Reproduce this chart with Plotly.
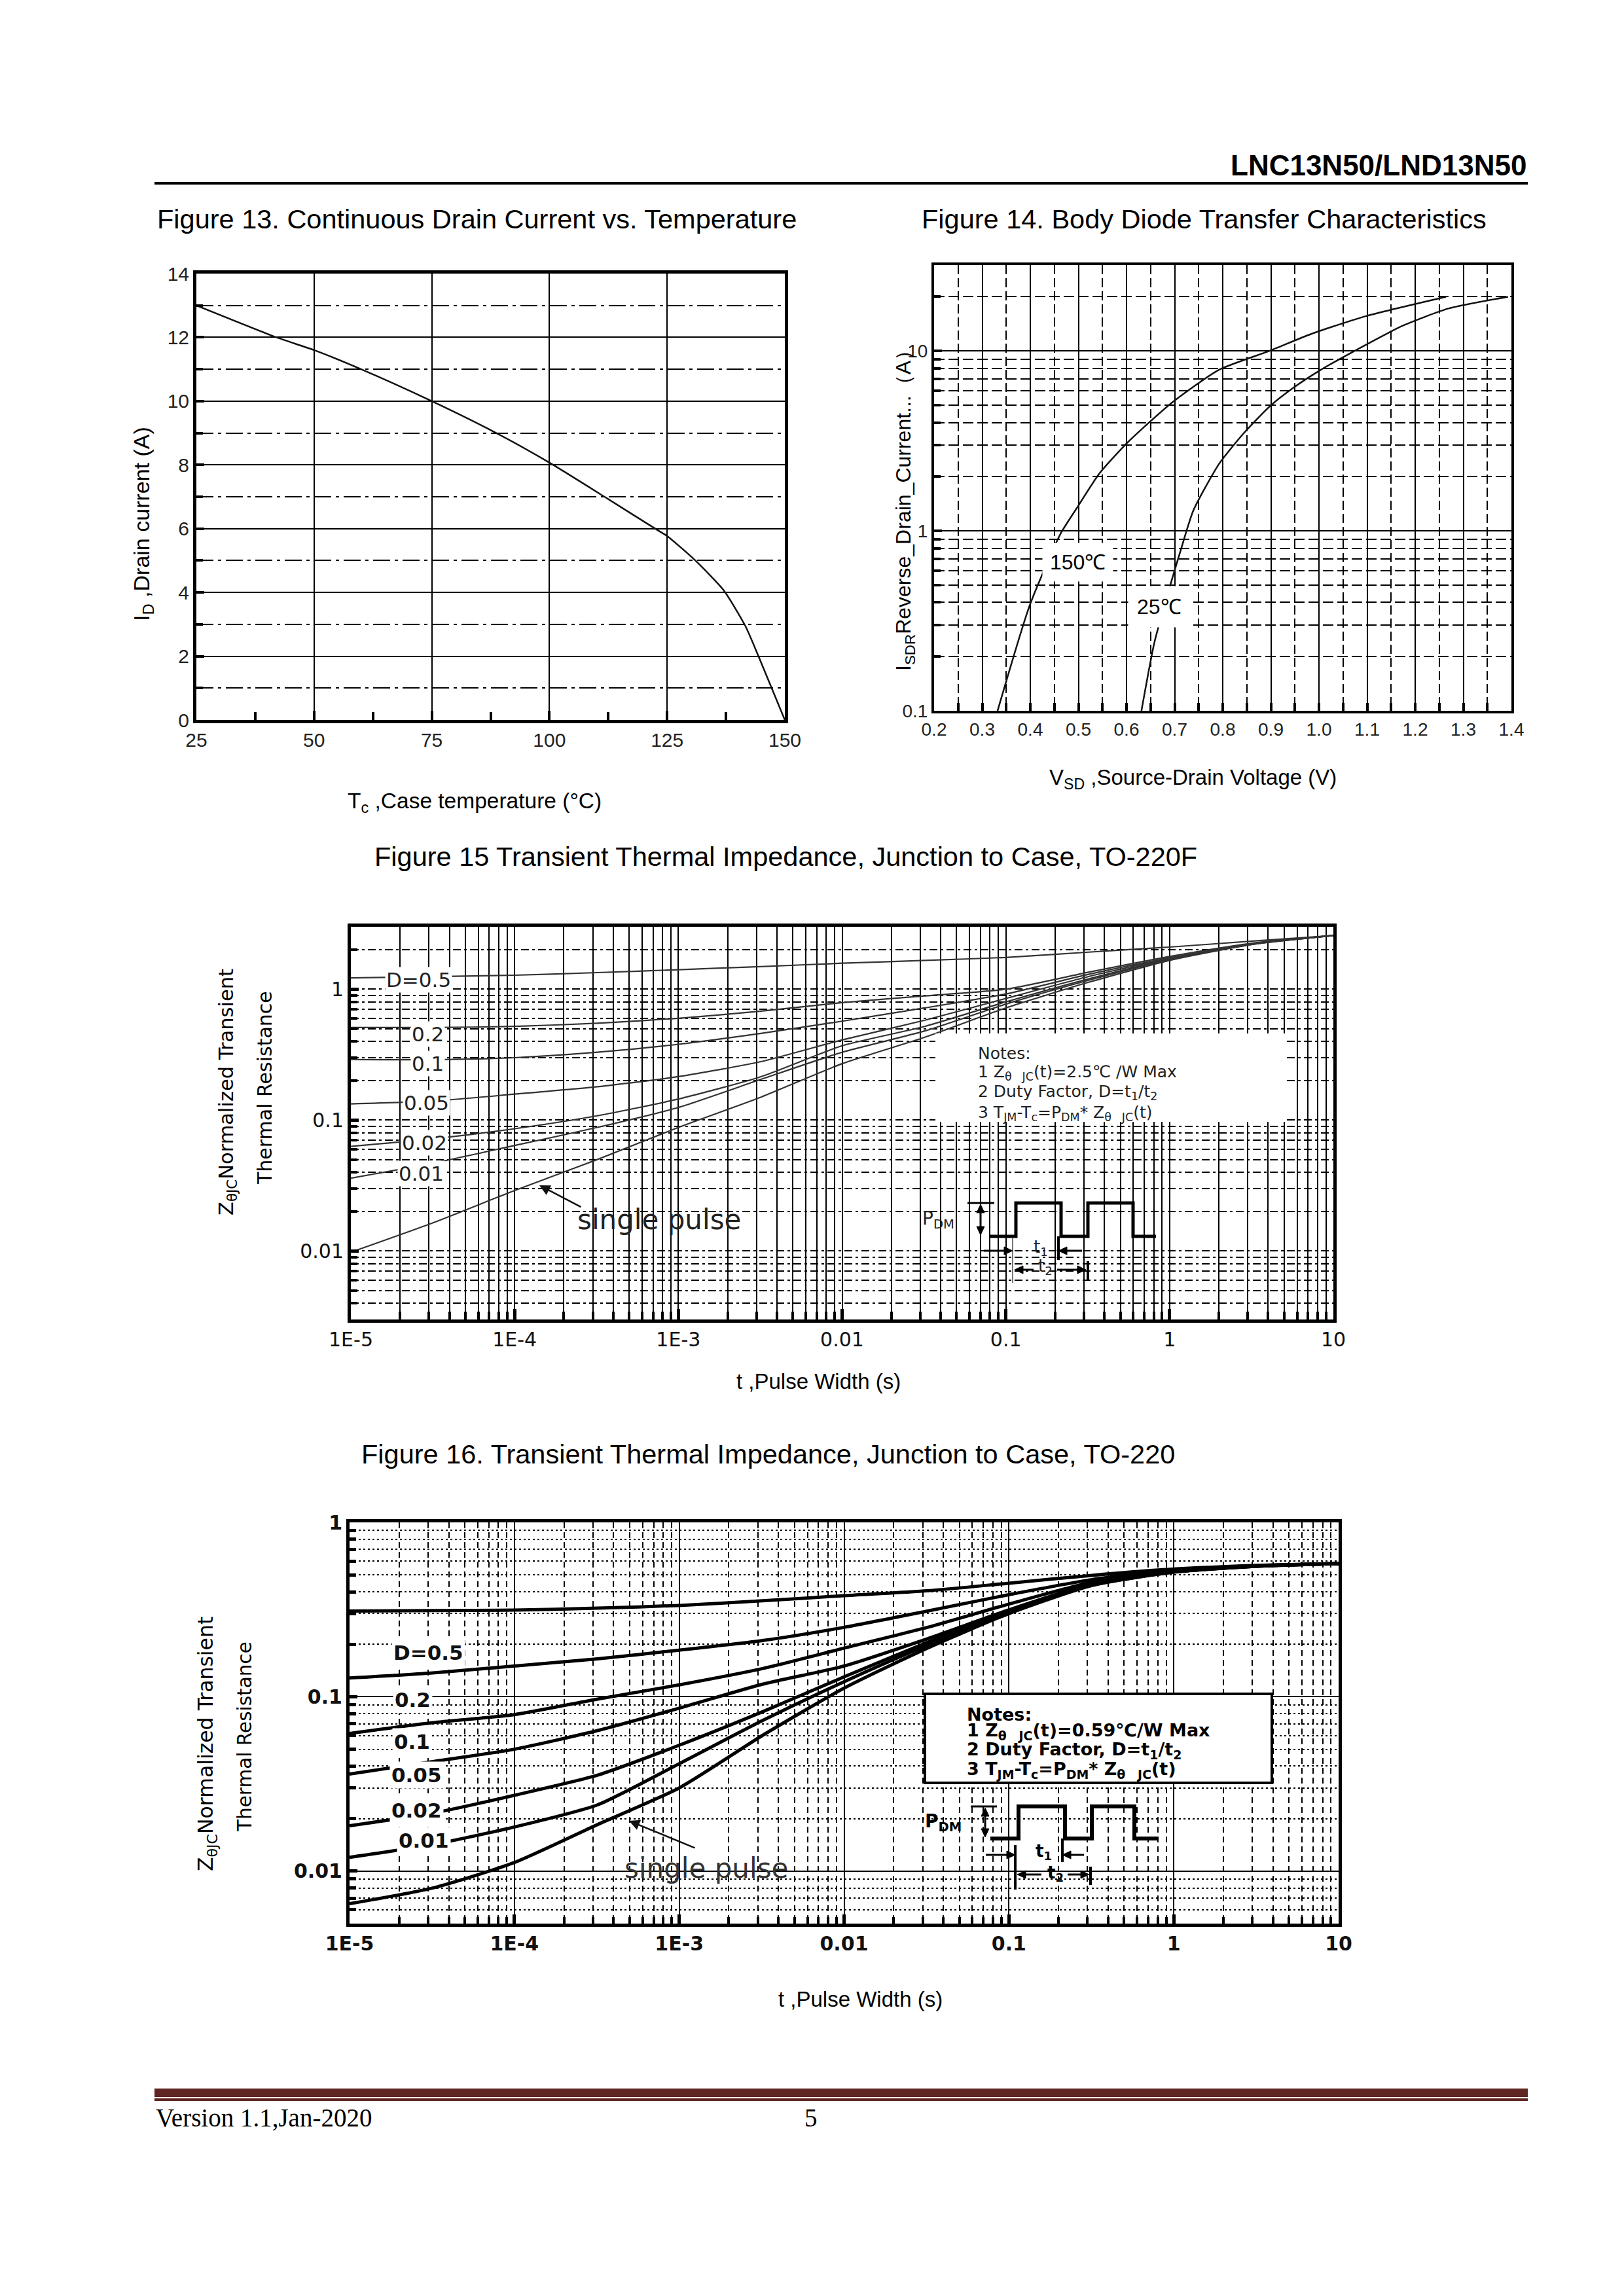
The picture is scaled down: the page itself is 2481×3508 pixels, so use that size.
import math
import plotly.graph_objects as go

W, H = 2481, 3508
DX, DY = -7, -6   # global page offset correction (pixels)

# ---------------- data ----------------
# Figure 13: continuous drain current vs case temperature
case_temp_c = [25, 42, 50, 60, 75, 88.7, 100, 111.7, 123, 125, 131, 137, 141.6, 144.4, 147.2, 150]
drain_current_a = [13.0, 12.0, 11.6, 11.0, 10.0, 9.0, 8.07, 7.0, 5.95, 5.77, 5.0, 4.07, 2.95, 2.0, 1.0, 0.0]
fig13_xticks = [25, 50, 75, 100, 125, 150]
fig13_yticks = [0, 2, 4, 6, 8, 10, 12, 14]

# Figure 14: body diode transfer characteristics
vsd_150c = [0.332, 0.399, 0.4625, 0.496, 0.544, 0.599, 0.649, 0.696, 0.792, 0.897, 0.983, 1.097, 1.264]
isd_150c = [0.1, 0.387, 0.96, 1.33, 2.09, 3.04, 4.05, 5.2, 7.85, 10.0, 12.4, 15.6, 20.0]
vsd_25c = [0.631, 0.658, 0.691, 0.715, 0.739, 0.792, 0.84, 0.897, 0.949, 1.002, 1.068, 1.174, 1.269, 1.393]
isd_25c = [0.1, 0.24, 0.50, 0.82, 1.3, 2.35, 3.4, 4.9, 6.3, 7.8, 9.8, 13.8, 17.2, 20.0]
fig14_xticks = [0.2, 0.3, 0.4, 0.5, 0.6, 0.7, 0.8, 0.9, 1.0, 1.1, 1.2, 1.3, 1.4]
fig14_xticktext = ["0.2", "0.3", "0.4", "0.5", "0.6", "0.7", "0.8", "0.9", "1.0", "1.1", "1.2", "1.3", "1.4"]
fig14_yticks = [0.1, 1, 10]
fig14_yticktext = ["0.1", "1", "10"]

# Figures 15 / 16: transient thermal impedance
pulse_width_s = [1e-5, 3.2e-5, 1e-4, 3.2e-4, 1e-3, 3.2e-3, 1e-2, 3.2e-2, 0.1, 0.32, 1, 3.2, 10]
pulse_ticks = [1e-5, 1e-4, 1e-3, 1e-2, 0.1, 1, 10]
pulse_ticktext = ["1E-5", "1E-4", "1E-3", "0.01", "0.1", "1", "10"]
z_ticks = [0.01, 0.1, 1]
z_ticktext = ["0.01", "0.1", "1"]

z15_d05 = [1.22, 1.25, 1.28, 1.34, 1.41, 1.49, 1.58, 1.66, 1.75, 1.92, 2.10, 2.33, 2.57]
z15_d02 = [0.51, 0.51, 0.52, 0.55, 0.60, 0.68, 0.79, 0.89, 1.00, 1.35, 1.78, 2.25, 2.57]
z15_d01 = [0.29, 0.29, 0.30, 0.33, 0.38, 0.46, 0.57, 0.72, 0.92, 1.30, 1.74, 2.23, 2.57]
z15_d005 = [0.133, 0.140, 0.158, 0.18, 0.215, 0.28, 0.41, 0.58, 0.85, 1.25, 1.72, 2.22, 2.57]
z15_d002 = [0.063, 0.072, 0.086, 0.108, 0.145, 0.215, 0.37, 0.52, 0.80, 1.20, 1.70, 2.21, 2.57]
z15_d001 = [0.036, 0.047, 0.064, 0.088, 0.125, 0.205, 0.33, 0.48, 0.77, 1.17, 1.68, 2.20, 2.57]
z15_single = [0.0098, 0.0165, 0.029, 0.05, 0.088, 0.15, 0.27, 0.43, 0.72, 1.13, 1.66, 2.20, 2.57]

z16_d05 = [0.31, 0.312, 0.314, 0.322, 0.334, 0.355, 0.38, 0.405, 0.448, 0.497, 0.54, 0.567, 0.58]
z16_d02 = [0.128, 0.137, 0.150, 0.165, 0.185, 0.21, 0.25, 0.31, 0.385, 0.47, 0.53, 0.565, 0.58]
z16_d01 = [0.0616, 0.071, 0.079, 0.097, 0.117, 0.145, 0.19, 0.25, 0.34, 0.455, 0.525, 0.563, 0.58]
z16_d005 = [0.036, 0.0425, 0.050, 0.064, 0.086, 0.118, 0.15, 0.215, 0.315, 0.445, 0.522, 0.562, 0.58]
z16_d002 = [0.0182, 0.0215, 0.0272, 0.0355, 0.0527, 0.082, 0.13, 0.205, 0.31, 0.44, 0.52, 0.561, 0.58]
z16_d001 = [0.012, 0.0142, 0.0179, 0.024, 0.0413, 0.073, 0.122, 0.198, 0.305, 0.437, 0.519, 0.56, 0.58]
z16_single = [0.0065, 0.0080, 0.0112, 0.0185, 0.030, 0.060, 0.112, 0.19, 0.30, 0.435, 0.518, 0.56, 0.58]

# ---------------- layout helpers ----------------
NARROW = "Liberation Sans Narrow, Arial Narrow, Liberation Sans, Arial, sans-serif"
ARIAL = "Liberation Sans, Arial, sans-serif"
WIDE = "DejaVu Sans, Verdana, sans-serif"
SERIF = "Liberation Serif, Times New Roman, serif"

# plot boxes in page pixels: X0, X1, Y0(top), Y1(bottom)
BOX13 = (299, 1198, 416, 1098)
BOX14 = (1426, 2308, 403, 1084)
BOX15 = (535, 2036, 1414, 2014)
BOX16 = (533, 2044, 2324, 2937)


def PX(X):
    return (X + DX) / W


def PY(Y):
    return 1 - (Y + DY) / H


def xdom(b):
    return [PX(b[0]), PX(b[1])]


def ydom(b):
    return [PY(b[3]), PY(b[2])]


def log_minors(e0, e1, lo, hi):
    out = []
    for e in range(e0, e1 + 1):
        for m in range(2, 10):
            v = round(m * 10.0 ** e, 12)
            if lo < v < hi:
                out.append(v)
    return out


shapes = []
annotations = []


def text(t, X, Y, size, family=ARIAL, color="black", xanchor="center", angle=0, bg=None, pad=1):
    a = dict(text=t, x=PX(X), y=PY(Y), xref="paper", yref="paper", showarrow=False,
             font=dict(size=size, family=family, color=color), xanchor=xanchor, yanchor="middle",
             textangle=angle, borderpad=pad)
    if bg:
        a["bgcolor"] = bg
    annotations.append(a)


def line_px(X0, Y0, X1, Y1, width=3, color="black"):
    shapes.append(dict(type="line", xref="paper", yref="paper", x0=PX(X0), y0=PY(Y0), x1=PX(X1), y1=PY(Y1),
                       line=dict(color=color, width=width), layer="above"))


def path_px(points, width=3, color="black", fill=None, closed=False):
    d = "M " + " L ".join(f"{PX(X):.6f},{PY(Y):.6f}" for X, Y in points)
    if closed:
        d += " Z"
    shp = dict(type="path", xref="paper", yref="paper", path=d,
               line=dict(color=color, width=width), layer="above")
    if fill:
        shp["fillcolor"] = fill
    shapes.append(shp)


def head(tx, ty, direction, L=13, Wd=6):
    if direction == "right":
        pts = [(tx, ty), (tx - L, ty - Wd), (tx - L, ty + Wd)]
    elif direction == "left":
        pts = [(tx, ty), (tx + L, ty - Wd), (tx + L, ty + Wd)]
    elif direction == "up":
        pts = [(tx, ty), (tx - Wd, ty + L), (tx + Wd, ty + L)]
    else:
        pts = [(tx, ty), (tx - Wd, ty - L), (tx + Wd, ty - L)]
    path_px(pts, width=1, fill="black", closed=True)


def rect_px(X0, Y0, X1, Y1, fill="white", lw=0, lc="black"):
    shapes.append(dict(type="rect", xref="paper", yref="paper",
                       x0=PX(X0), x1=PX(X1), y0=PY(Y1), y1=PY(Y0), fillcolor=fill,
                       line=dict(width=lw, color=lc), layer="above"))


fig = go.Figure()

# ---------------- traces ----------------
fig.add_trace(go.Scatter(x=case_temp_c, y=drain_current_a, mode="lines", xaxis="x", yaxis="y",
                         line=dict(color="#111", width=2.5, shape="spline", smoothing=0.6)))
fig.add_trace(go.Scatter(x=vsd_150c, y=isd_150c, mode="lines", xaxis="x2", yaxis="y2",
                         line=dict(color="#111", width=2.5, shape="spline", smoothing=0.6)))
fig.add_trace(go.Scatter(x=vsd_25c, y=isd_25c, mode="lines", xaxis="x2", yaxis="y2",
                         line=dict(color="#111", width=2.5, shape="spline", smoothing=0.6)))
for ser in [z15_d05, z15_d02, z15_d01, z15_d005, z15_d002, z15_d001, z15_single]:
    fig.add_trace(go.Scatter(x=pulse_width_s, y=ser, mode="lines", xaxis="x3", yaxis="y3",
                             line=dict(color="#333", width=2.2, shape="spline", smoothing=0.6)))
for ser in [z16_d05, z16_d02, z16_d01, z16_d005, z16_d002, z16_d001, z16_single]:
    fig.add_trace(go.Scatter(x=pulse_width_s, y=ser, mode="lines", xaxis="x4", yaxis="y4",
                             line=dict(color="black", width=5, shape="spline", smoothing=0.6)))

common = dict(showline=True, linecolor="black", mirror=True, zeroline=False, tickcolor="black",
              gridcolor="black", showgrid=True, fixedrange=True, tickmode="array")

# Figure 13 axes
xaxis1 = dict(common, domain=xdom(BOX13), anchor="y", range=[25, 150], tickvals=fig13_xticks,
              ticks="inside", ticklen=14, tickwidth=4, gridwidth=2, linewidth=5,
              tickfont=dict(family=NARROW, size=30, color="#222"),
              minor=dict(tickvals=[37.5, 62.5, 87.5, 112.5, 137.5], ticks="inside", ticklen=12,
                         tickwidth=4, tickcolor="black", showgrid=False))
yaxis1 = dict(common, domain=ydom(BOX13), anchor="x", range=[0, 14], tickvals=fig13_yticks,
              ticks="inside", ticklen=12, tickwidth=4, gridwidth=2, linewidth=5,
              tickfont=dict(family=NARROW, size=30, color="#222"),
              minor=dict(tickvals=[1, 3, 5, 7, 9, 11, 13], ticks="inside", ticklen=10, tickwidth=4,
                         tickcolor="black", showgrid=True, gridcolor="black", gridwidth=1.6,
                         griddash="26px,7px,5px,7px"))

# Figure 14 axes
xaxis2 = dict(common, domain=xdom(BOX14), anchor="y2", range=[0.2, 1.4], tickvals=fig14_xticks,
              ticktext=fig14_xticktext, ticks="inside", ticklen=12, tickwidth=4, gridwidth=2,
              linewidth=4, tickfont=dict(family=NARROW, size=28, color="#222"),
              minor=dict(tickvals=[0.25, 0.35, 0.45, 0.55, 0.65, 0.75, 0.85, 0.95, 1.05, 1.15, 1.25, 1.35],
                         ticks="inside", ticklen=12, tickwidth=4, tickcolor="black", showgrid=True,
                         gridcolor="black", gridwidth=1.6, griddash="14px,6px"))
yaxis2 = dict(common, domain=ydom(BOX14), anchor="x2", type="log", range=[-1, math.log10(30)],
              tickvals=fig14_yticks, ticktext=fig14_yticktext, ticks="inside", ticklen=12, tickwidth=4,
              gridwidth=2, linewidth=4, tickfont=dict(family=NARROW, size=28, color="#222"),
              minor=dict(tickvals=log_minors(-1, 1, 0.1, 30), ticks="inside", ticklen=10, tickwidth=4,
                         tickcolor="black", showgrid=True, gridcolor="black", gridwidth=1.6,
                         griddash="16px,6px"))

# Figure 15 axes
xaxis3 = dict(common, domain=xdom(BOX15), anchor="y3", type="log", range=[-5, 1], tickvals=pulse_ticks,
              ticktext=pulse_ticktext, ticks="inside", ticklen=16, tickwidth=5, gridwidth=2, linewidth=5,
              tickfont=dict(family=WIDE, size=30, color="#111"),
              minor=dict(tickvals=log_minors(-5, 0, 1e-5, 10), ticks="inside", ticklen=12, tickwidth=4,
                         tickcolor="black", showgrid=True, gridcolor="black", gridwidth=2))
yaxis3 = dict(common, domain=ydom(BOX15), anchor="x3", type="log", range=[math.log10(0.003), math.log10(3)],
              tickvals=z_ticks, ticktext=z_ticktext, ticks="inside", ticklen=12, tickwidth=5, gridwidth=2,
              griddash="12px,5px,4px,5px", linewidth=5, tickfont=dict(family=WIDE, size=30, color="#111"),
              minor=dict(tickvals=log_minors(-3, 0, 0.003, 3), ticks="inside", ticklen=10, tickwidth=4,
                         tickcolor="black", showgrid=True, gridcolor="black", gridwidth=2,
                         griddash="12px,5px,4px,5px"))

# Figure 16 axes
xaxis4 = dict(common, domain=xdom(BOX16), anchor="y4", type="log", range=[-5, 1], tickvals=pulse_ticks,
              ticktext=["<b>" + t + "</b>" for t in pulse_ticktext], ticks="inside", ticklen=14, tickwidth=5,
              gridwidth=2, linewidth=5, tickfont=dict(family=WIDE, size=30, color="#111"),
              minor=dict(tickvals=log_minors(-5, 0, 1e-5, 10), ticks="inside", ticklen=10, tickwidth=4,
                         tickcolor="black", showgrid=True, gridcolor="black", gridwidth=1.6,
                         griddash="9px,6px"))
yaxis4 = dict(common, domain=ydom(BOX16), anchor="x4", type="log", range=[math.log10(0.005), 0],
              tickvals=z_ticks, ticktext=["<b>" + t + "</b>" for t in z_ticktext], ticks="inside", ticklen=12,
              tickwidth=5, gridwidth=2, linewidth=5, tickfont=dict(family=WIDE, size=30, color="#111"),
              minor=dict(tickvals=log_minors(-3, -1, 0.005, 1), ticks="inside", ticklen=10, tickwidth=5,
                         tickcolor="black", showgrid=True, gridcolor="black", gridwidth=1.6,
                         griddash="3px,4px"))

# ---------------- page text ----------------
text("<b>LNC13N50/LND13N50</b>", 2333, 250, 44, ARIAL, xanchor="right")
line_px(235, 278, 2333, 278, 4)

text("Figure 13. Continuous Drain Current vs. Temperature", 237, 333, 41.5, ARIAL, xanchor="left")
text("Figure 14. Body Diode Transfer Characteristics", 1405, 333, 41.5, ARIAL, xanchor="left")
text("Figure 15 Transient Thermal Impedance, Junction to Case, TO-220F", 1199, 1306, 41.5, ARIAL)
text("Figure 16. Transient Thermal Impedance, Junction to Case, TO-220", 1172, 2219, 41.5, ARIAL)

# axis titles
text("I<sub>D</sub> ,Drain current (A)", 217, 799, 34, ARIAL, angle=-90)
text("T<sub>c</sub> ,Case temperature (°C)", 724, 1224, 33.5, ARIAL)
text("I<sub>SDR</sub>Reverse_Drain_Current...（A）", 1381, 770, 32, ARIAL, angle=-90)
text("V<sub>SD</sub> ,Source-Drain Voltage (V)", 1821, 1188, 33, ARIAL)
text("Z<sub>θJC</sub>Normalized Transient", 346, 1667, 30.5, WIDE, angle=-90)
text("Thermal Resistance", 403, 1660, 30, WIDE, angle=-90)
text("t ,Pulse Width (s)", 1249, 2108, 33, ARIAL)
text("Z<sub>θJC</sub>Normalized Transient", 315, 2663, 31.5, WIDE, angle=-90)
text("Thermal Resistance", 373, 2652, 29.5, WIDE, angle=-90)
text("t ,Pulse Width (s)", 1313, 3052, 33, ARIAL)

# Figure 14 curve labels
text("150℃", 1645, 857, 32, NARROW, bg="white", pad=11)
text("25℃", 1770, 925, 32, NARROW, bg="white", pad=13)

# Figure 15 notes area (white patch over the grid)
rect_px(1428, 1577, 1962, 1712)
text("Notes:", 1491, 1607, 25, WIDE, color="#222", xanchor="left")
text("1 Z<sub>θ</sub>  <sub>JC</sub>(t)=2.5℃ /W Max", 1491, 1637, 25, WIDE, color="#222", xanchor="left")
text("2 Duty Factor, D=t<sub>1</sub>/t<sub>2</sub>", 1491, 1667, 25, WIDE, color="#222", xanchor="left")
text("3 T<sub>JM</sub>-T<sub>c</sub>=P<sub>DM</sub>* Z<sub>θ</sub>  <sub>JC</sub>(t)", 1491, 1699, 25, WIDE,
     color="#222", xanchor="left")

# Figure 15 curve labels
for lab, X, Y in [("D=0.5", 638, 1495), ("0.2", 652, 1578), ("0.1", 652, 1623), ("0.05", 650, 1683),
                  ("0.02", 647, 1744), ("0.01", 642, 1791)]:
    text(lab, X, Y, 31, WIDE, color="#222", bg="white", pad=1)
text("single pulse", 1006, 1861, 42, WIDE, color="#222")
annotations.append(dict(text="", x=PX(823), y=PY(1809), xref="paper", yref="paper", showarrow=True,
                        ax=65, ay=34, arrowhead=2, arrowsize=1.3, arrowwidth=2.5, arrowcolor="#111"))

# Figure 15 pulse diagram
path_px([(1512, 1887), (1551, 1887), (1551, 1836), (1620, 1836), (1620, 1887), (1661, 1887),
         (1661, 1836), (1730, 1836), (1730, 1887), (1765, 1887)], width=5)
line_px(1477, 1836, 1518, 1836, 3)
line_px(1497, 1850, 1497, 1873, 3)
head(1497, 1838, "up")
head(1497, 1885, "down")
text("P<sub>DM</sub>", 1432, 1862, 28, WIDE, color="#222")
line_px(1546, 1890, 1546, 1958, 2, "#777")
line_px(1616, 1887, 1616, 1923, 4)
line_px(1502, 1909, 1535, 1909, 3)
head(1546, 1909, "right")
line_px(1627, 1909, 1652, 1909, 3)
head(1616, 1909, "left")
text("t<sub>1</sub>", 1589, 1904, 26, WIDE, color="#222")
line_px(1661, 1925, 1661, 1955, 4)
line_px(1560, 1938, 1578, 1938, 3)
head(1549, 1938, "left")
line_px(1614, 1938, 1646, 1938, 3)
head(1658, 1938, "right")
text("t<sub>2</sub>", 1596, 1933, 26, WIDE, color="#222")

# Figure 16 notes box
rect_px(1412, 2586, 1942, 2722, fill="white", lw=4, lc="black")
text("<b>Notes:</b>", 1474, 2617, 27, WIDE, xanchor="left")
text("<b>1 Z<sub>θ</sub>  <sub>JC</sub>(t)=0.59℃/W Max</b>", 1474, 2643, 27, WIDE, xanchor="left")
text("<b>2 Duty Factor, D=t<sub>1</sub>/t<sub>2</sub></b>", 1474, 2672, 27, WIDE, xanchor="left")
text("<b>3 T<sub>JM</sub>-T<sub>c</sub>=P<sub>DM</sub>* Z<sub>θ</sub>  <sub>JC</sub>(t)</b>", 1474, 2702, 27,
     WIDE, xanchor="left")

# Figure 16 curve labels
for lab, X, Y in [("D=0.5", 653, 2523), ("0.2", 629, 2595), ("0.1", 628, 2659), ("0.05", 635, 2710),
                  ("0.02", 635, 2764), ("0.01", 646, 2810)]:
    text("<b>" + lab + "</b>", X, Y, 31, WIDE, color="#111", bg="white", pad=2)
text("single pulse", 1078, 2852, 42, WIDE, color="#333")
annotations.append(dict(text="", x=PX(960), y=PY(2780), xref="paper", yref="paper", showarrow=True,
                        ax=102, ay=42, arrowhead=2, arrowsize=1.3, arrowwidth=2.5, arrowcolor="#111"))

# Figure 16 pulse diagram
path_px([(1512, 2807), (1555, 2807), (1555, 2758), (1626, 2758), (1626, 2807), (1667, 2807),
         (1667, 2758), (1732, 2758), (1732, 2807), (1769, 2807)], width=6)
line_px(1482, 2758, 1522, 2758, 3)
line_px(1504, 2772, 1504, 2793, 3)
head(1504, 2760, "up")
head(1504, 2805, "down")
text("<b>P<sub>DM</sub></b>", 1440, 2782, 28, WIDE)
line_px(1550, 2817, 1550, 2885, 4)
line_px(1622, 2807, 1622, 2843, 4)
line_px(1505, 2832, 1539, 2832, 3)
head(1550, 2832, "right")
line_px(1633, 2832, 1655, 2832, 3)
head(1622, 2832, "left")
text("<b>t<sub>1</sub></b>", 1593, 2827, 26, WIDE)
line_px(1665, 2850, 1665, 2878, 4)
line_px(1564, 2862, 1590, 2862, 3)
head(1553, 2862, "left")
line_px(1630, 2862, 1652, 2862, 3)
head(1663, 2862, "right")
text("<b>t<sub>2</sub></b>", 1611, 2860, 26, WIDE)

# footer
rect_px(235, 3189, 2333, 3202, fill="#5E2523")
rect_px(235, 3204, 2333, 3208, fill="#5E2523")
text("Version 1.1,Jan-2020", 235, 3233, 39, SERIF, xanchor="left")
text("5", 1238, 3233, 39, SERIF)

fig.update_layout(
    width=W, height=H, autosize=False,
    margin=dict(l=0, r=0, t=0, b=0, pad=0),
    paper_bgcolor="white", plot_bgcolor="white",
    showlegend=False, template="none",
    xaxis=xaxis1, yaxis=yaxis1,
    xaxis2=xaxis2, yaxis2=yaxis2,
    xaxis3=xaxis3, yaxis3=yaxis3,
    xaxis4=xaxis4, yaxis4=yaxis4,
    shapes=shapes, annotations=annotations,
)

fig.write_html("out.html")
